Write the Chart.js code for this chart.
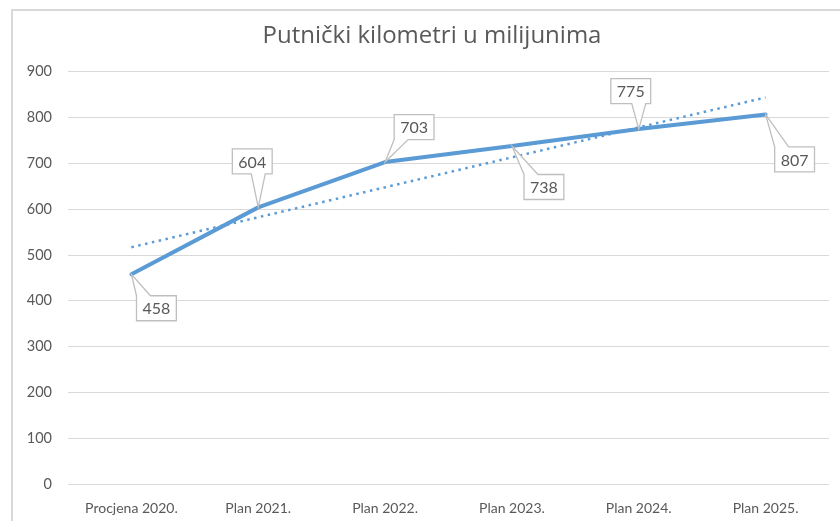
<!DOCTYPE html>
<html lang="hr">
<head>
  <meta charset="UTF-8">
  <title>Putnički kilometri</title>
  <script src="https://cdn.jsdelivr.net/npm/chart.js"></script>
  <style>
    body { margin: 0; background: #fff; }
    .frame {
      position: absolute; left: 11px; top: 9px;
      width: 1000px; height: 1000px;
      border: 2px solid #d9d9d9;
    }
    #wrap { position: absolute; left: 0; top: 0; width: 840px; height: 521px; }
  </style>
</head>
<body>
<div class="frame"></div>
<div id="wrap"><canvas id="chart" width="840" height="521"></canvas></div>

<script>
// podaci
const kategorije = ['Procjena 2020.', 'Plan 2021.', 'Plan 2022.', 'Plan 2023.', 'Plan 2024.', 'Plan 2025.'];
const putnickiKm = [458, 604, 703, 738, 775, 807];
// linija trenda (krajnje vrijednosti ocitane sa slike)
const trend = [517, null, null, null, null, 844];
const yTicks = [0, 100, 200, 300, 400, 500, 600, 700, 800, 900];

const plava = '#5B9BD5';
const siva = '#595959';
const font = 'Lato, "Open Sans", sans-serif';

// pomaci oblacica od tocke (centar okvira)
const pomaci = [[25, 34], [-6, -46], [29, -35], [32, 41], [-8, -38], [29, 45]];

const oblacici = {
  id: 'oblacici',
  afterDatasetsDraw(chart) {
    const ctx = chart.ctx;
    const meta = chart.getDatasetMeta(0);
    ctx.save();
    ctx.font = '16px ' + font;
    meta.data.forEach((pt, i) => {
      const txt = String(putnickiKm[i]);
      const w = ctx.measureText(txt).width + 12;
      const h = 25;
      const cx = pt.x + pomaci[i][0], cy = pt.y + pomaci[i][1];
      const l = cx - w / 2, r = cx + w / 2, t = cy - h / 2, b = cy + h / 2;
      const bw = 14;
      let bx = Math.min(Math.max(pt.x - bw / 2, l), r - bw);
      const gore = pt.y < t;
      ctx.beginPath();
      if (gore) {
        ctx.moveTo(l, t); ctx.lineTo(bx, t); ctx.lineTo(pt.x, pt.y); ctx.lineTo(bx + bw, t);
        ctx.lineTo(r, t); ctx.lineTo(r, b); ctx.lineTo(l, b); ctx.closePath();
      } else {
        ctx.moveTo(l, t); ctx.lineTo(r, t); ctx.lineTo(r, b); ctx.lineTo(bx + bw, b);
        ctx.lineTo(pt.x, pt.y); ctx.lineTo(bx, b); ctx.lineTo(l, b); ctx.closePath();
      }
      ctx.fillStyle = '#fff';
      ctx.fill();
      ctx.strokeStyle = '#bfbfbf';
      ctx.lineWidth = 1.3;
      ctx.stroke();
      ctx.fillStyle = siva;
      ctx.textAlign = 'center';
      ctx.textBaseline = 'middle';
      ctx.fillText(txt, cx, cy + 1);
    });
    ctx.restore();
  }
};

new Chart(document.getElementById('chart'), {
  type: 'line',
  data: {
    labels: kategorije,
    datasets: [
      { label: 'Putnički km', data: putnickiKm, borderColor: plava, borderWidth: 4,
        pointRadius: 0, tension: 0, borderCapStyle: 'round', borderJoinStyle: 'round', order: 1 },
      { label: 'Trend', data: trend, borderColor: plava, borderWidth: 2.5, borderDash: [2.5, 4.5],
        pointRadius: 0, spanGaps: true, tension: 0, order: 2 }
    ]
  },
  options: {
    responsive: false,
    animation: false,
    layout: { padding: { left: 24, right: 0, top: 0, bottom: 0 } },
    plugins: {
      legend: { display: false },
      tooltip: { enabled: false },
      title: {
        display: true,
        text: 'Putnički kilometri u milijunima',
        color: siva,
        font: { family: '"Open Sans", sans-serif', size: 24, weight: 'normal' },
        padding: { top: 22, bottom: 21 }
      }
    },
    scales: {
      x: {
        offset: true,
        grid: { display: false },
        border: { display: false },
        ticks: { color: siva, font: { family: font, size: 14 }, padding: 8, maxRotation: 0 },
        afterFit: s => { s.height = 37; }
      },
      y: {
        min: 0, max: 900,
        afterBuildTicks: s => { s.ticks = yTicks.map(v => ({ value: v })); },
        grid: { color: '#d9d9d9', lineWidth: 1, drawTicks: false },
        border: { display: false },
        ticks: { color: siva, font: { family: font, size: 14.5 }, padding: 16 },
        afterFit: s => { s.width = 44; }
      },
      yR: {
        position: 'right',
        display: true,
        grid: { display: false },
        border: { display: false },
        ticks: { display: false },
        afterFit: s => { s.width = 11; }
      }
    }
  },
  plugins: [oblacici]
});
</script>
</body>
</html>
